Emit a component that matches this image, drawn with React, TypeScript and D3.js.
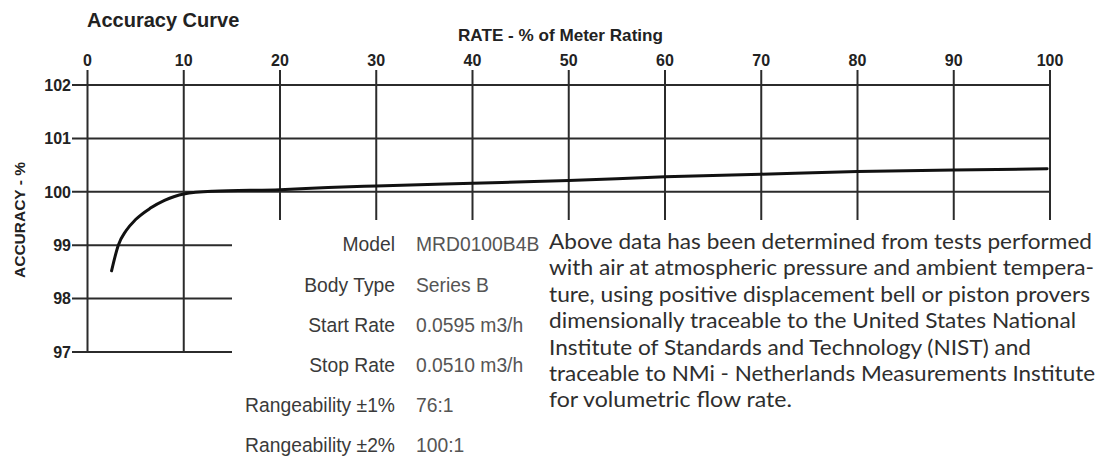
import React from 'react';
import * as d3 from 'd3';

const rateTicks = [0, 10, 20, 30, 40, 50, 60, 70, 80, 90, 100];
const accuracyTicks = [102, 101, 100, 99, 98, 97];
const longGridAccuracy = [102, 101, 100];
const fullHeightRates = [0, 10];

const curveRate = [2.5, 3.2, 4.0, 5.0, 6.5, 8.0, 10, 13, 20, 25, 30, 40, 50, 60, 70, 80, 90, 99.7];
const curveAccuracy = [98.52, 99.0, 99.27, 99.48, 99.69, 99.84, 99.96, 100.01, 100.04, 100.08, 100.11, 100.16, 100.21, 100.28, 100.33, 100.38, 100.41, 100.43];

const infoLabels = ['Model', 'Body Type', 'Start Rate', 'Stop Rate', 'Rangeability ±1%', 'Rangeability ±2%'];
const infoValues = ['MRD0100B4B', 'Series B', '0.0595 m3/h', '0.0510 m3/h', '76:1', '100:1'];

const noteLines = [
  'Above data has been determined from tests performed',
  'with air at atmospheric pressure and ambient tempera-',
  'ture, using positive displacement bell or piston provers',
  'dimensionally traceable to the United States National',
  'Institute of Standards and Technology (NIST) and',
  'traceable to NMi - Netherlands Measurements Institute',
  'for volumetric flow rate.',
];
const noteWidths = [543, 545, 541, 527, 482, 546, 243];

const W = 1105;
const H = 462;
const X0 = 87.5;
const X1 = 1050;
const Y_TOP = 85;
const Y_BOT = 352;
const GRID_TOP = 70;
const SHORT_BOTTOM = 220;
const SHORT_RIGHT = 232;
const LINE_LEFT = 72;

const sans = '"Liberation Sans", Arial, sans-serif';
const grid = '#2b2b2b';

export default function App() {
  const x = d3.scaleLinear().domain([0, 100]).range([X0, X1]);
  const y = d3.scaleLinear().domain([97, 102]).range([Y_BOT, Y_TOP]);
  const pts: [number, number][] = curveRate.map((r, i) => [r, curveAccuracy[i]]);
  const line = d3
    .line<[number, number]>()
    .x((d) => x(d[0]))
    .y((d) => y(d[1]))
    .curve(d3.curveMonotoneX);

  const infoRowY = [251, 292, 332, 372, 412, 452];
  const noteY = (i: number) => 249 + i * 26.4;

  return (
    <svg width={W} height={H} style={{ position: 'absolute', left: 0, top: 0, background: '#fff' }}>
      <rect width={W} height={H} fill="#fff" />
      <text x={87} y={27} fontFamily={sans} fontWeight="bold" fontSize={20} fill="#222">
        Accuracy Curve
      </text>
      <text x={458} y={41} fontFamily={sans} fontWeight="bold" fontSize={16.5} fill="#222" textLength={205} lengthAdjust="spacingAndGlyphs">
        RATE - % of Meter Rating
      </text>
      <text
        transform={`translate(25,220) rotate(-90)`}
        textAnchor="middle"
        fontFamily={sans}
        fontWeight="bold"
        fontSize={15.5}
        fill="#222"
      >
        ACCURACY - %
      </text>

      {rateTicks.map((r) => (
        <g key={'v' + r}>
          <line
            x1={x(r)}
            x2={x(r)}
            y1={GRID_TOP}
            y2={fullHeightRates.includes(r) ? y(97) : SHORT_BOTTOM}
            stroke={grid}
            strokeWidth={2}
          />
          <text x={x(r)} y={66} textAnchor="middle" fontFamily={sans} fontWeight="bold" fontSize={16} fill="#222">
            {r}
          </text>
        </g>
      ))}

      {accuracyTicks.map((a) => (
        <g key={'h' + a}>
          <line
            x1={LINE_LEFT}
            x2={longGridAccuracy.includes(a) ? X1 : SHORT_RIGHT}
            y1={y(a)}
            y2={y(a)}
            stroke={grid}
            strokeWidth={2}
          />
          <text x={71} y={y(a)} dy="0.36em" textAnchor="end" fontFamily={sans} fontWeight="bold" fontSize={16} fill="#222">
            {a}
          </text>
        </g>
      ))}

      <path d={line(pts) || ''} fill="none" stroke="#111" strokeWidth={3} strokeLinecap="round" />

      {infoLabels.map((l, i) => (
        <g key={'info' + i}>
          <text x={395} y={infoRowY[i]} textAnchor="end" fontFamily={sans} fontSize={19.3} fill="#3a3a3a">
            {l}
          </text>
          <text x={416} y={infoRowY[i]} fontFamily={sans} fontSize={19.3} fill="#555">
            {infoValues[i]}
          </text>
        </g>
      ))}

      {noteLines.map((t, i) => (
        <text
          key={'n' + i}
          x={549}
          y={noteY(i)}
          fontFamily="Lato, 'Open Sans', sans-serif"
          fontSize={21}
          fill="#2e2e2e"
          textLength={noteWidths[i]}
          lengthAdjust="spacingAndGlyphs"
        >
          {t}
        </text>
      ))}
    </svg>
  );
}
